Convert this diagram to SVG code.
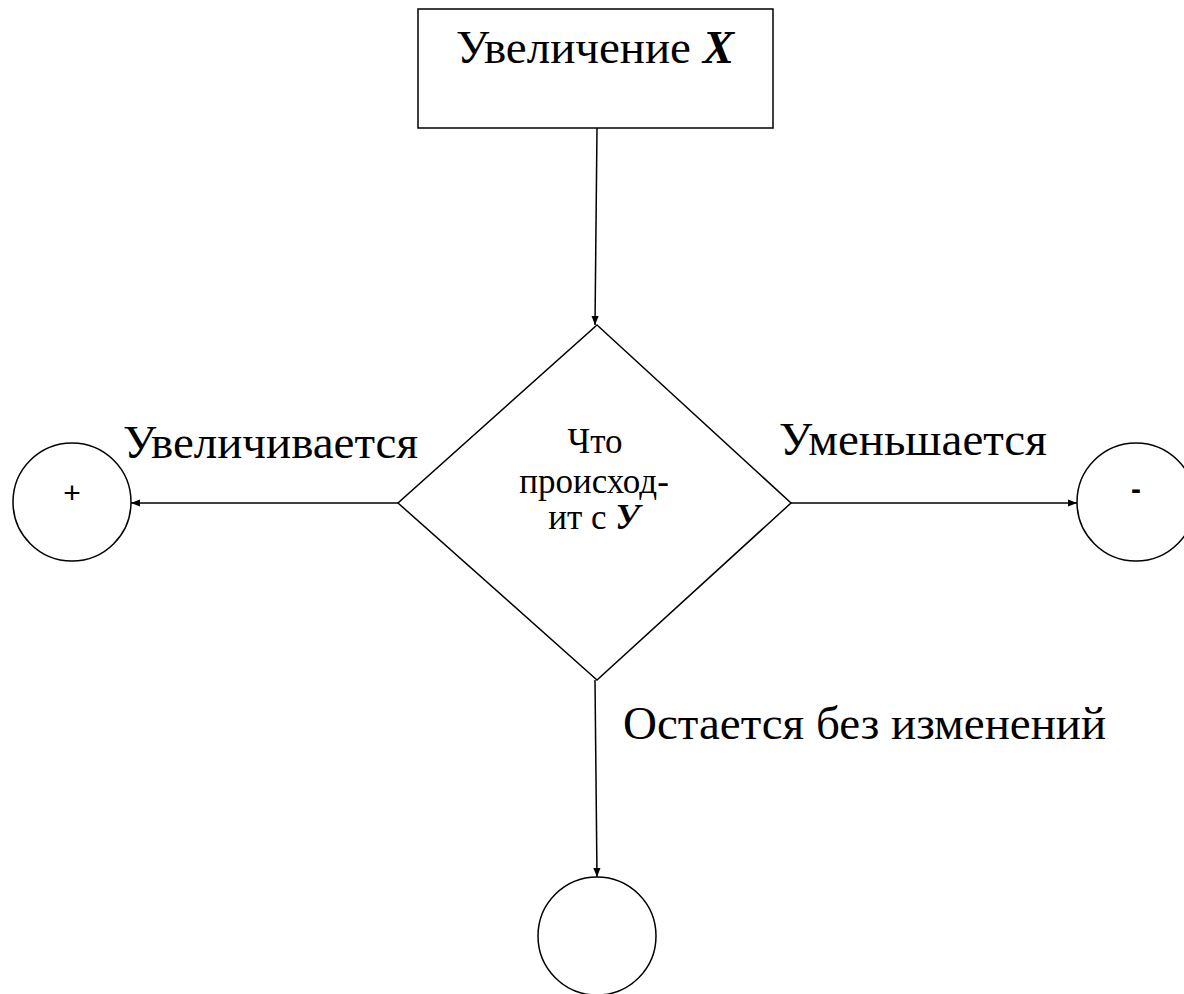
<svg xmlns="http://www.w3.org/2000/svg" width="1184" height="994" viewBox="0 0 1184 994">
<style>
.s{fill:#fff;stroke:#000;stroke-width:1.5}
.t{font-family:"Liberation Serif","Times New Roman",serif;fill:#000}
.big{font-size:47px}
.small{font-size:35px}
.c{stroke:#000;stroke-width:1.5;fill:none;marker-end:url(#a)}
.bi{font-weight:bold;font-style:italic}
.sans{font-family:"Liberation Sans",Arial,sans-serif;font-size:30px;fill:#000}
</style>
<defs>
<marker id="a" viewBox="0 0 10 10" refX="10" refY="5" markerWidth="9" markerHeight="9" markerUnits="userSpaceOnUse" orient="auto">
<path d="M0,1 L10,5 L0,9 z" fill="#000"/>
</marker>
</defs>
<rect width="1184" height="994" fill="#fff"/>
<g id="start">
<rect class="s" x="418" y="9" width="355" height="119"/>
<text class="t big" x="595" y="63" text-anchor="middle">Увеличение <tspan class="bi">X</tspan></text>
</g>
<g id="decision">
<polygon class="s" points="597,325 791,503 597,680 398,503"/>
<text class="t small" x="595" y="453" text-anchor="middle">Что</text>
<text class="t small" x="594" y="493" text-anchor="middle">происход-</text>
<text class="t small" x="594" y="529" text-anchor="middle">ит с <tspan class="bi">У</tspan></text>
</g>
<g id="plus">
<circle class="s" cx="72" cy="502" r="59"/>
<text class="sans" x="72" y="503" text-anchor="middle">+</text>
</g>
<g id="minus">
<circle class="s" cx="1136" cy="502" r="59"/>
<text class="sans" x="1136" y="499" text-anchor="middle" font-weight="bold">-</text>
</g>
<g id="same">
<circle class="s" cx="597" cy="936" r="59"/>
</g>
<g id="connectors">
<line class="c" x1="597" y1="128" x2="595" y2="325"/>
<line class="c" x1="398" y1="503" x2="131" y2="503"/>
<line class="c" x1="791" y1="503" x2="1077" y2="503"/>
<line class="c" x1="595" y1="680" x2="597" y2="877"/>
</g>
<g id="labels">
<text class="t big" x="123" y="458">Увеличивается</text>
<text class="t big" x="779" y="455">Уменьшается</text>
<text class="t big" x="623" y="739">Остается без изменений</text>
</g>
</svg>
